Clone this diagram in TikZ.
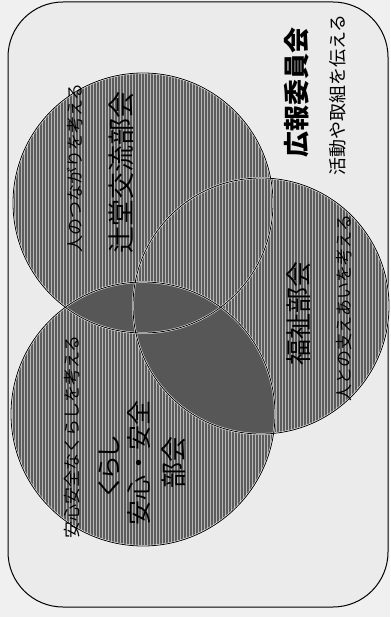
\documentclass[tikz,border=0pt]{standalone}
\usepackage{fontspec}
\setmainfont{Noto Sans CJK JP}
\newfontfamily\kanafont[RawFeature=+palt]{Noto Sans CJK JP}
\usetikzlibrary{patterns.meta}

\tikzset{
  bigtext/.style={rotate=90, inner sep=0pt, font=\fontsize{25}{25}\selectfont},
  smalltext/.style={rotate=90, inner sep=0pt, font=\fontsize{17}{17}\selectfont},
  stripes/.style={pattern={Lines[angle=90,distance=3pt,line width=1pt]}, pattern color=black!28},
  ring/.style={draw=black, line width=0.8pt},
}
\newcommand\circA{(143,203) circle[radius=130pt]}
\newcommand\circB{(261,306) circle[radius=128pt]}
\newcommand\circC{(143,414) circle[radius=132pt]}

\begin{document}
\begin{tikzpicture}[x=1pt,y=-1pt]
\useasboundingbox (0,0) rectangle (390,617);
\fill[black!6] (0,0) rectangle (390,617);
\draw[line width=1pt, rounded corners=55pt, fill=black!8] (8,2) rectangle (388,607);
% circles
\fill[black!64] \circA \circB \circC;
\fill[stripes] \circA \circB \circC;
\begin{scope}
\clip \circC;
\fill[black!66] \circA;
\fill[black!66] \circB;
\end{scope}
\draw[white, line width=1.8pt] \circA \circB \circC;
\draw[ring] \circA \circB \circC;
% labels
\node[bigtext, font=\fontsize{26}{26}\selectfont\bfseries] (koho) at (297,93) {広報委員会};
\node[smalltext, font=\fontsize{18}{18}\selectfont] (kohosub) at (338,95) {活動や取組を伝える};
\node[bigtext, font=\fontsize{27}{27}\selectfont] (tsujido) at (121,173) {辻堂交流部会};
\node[smalltext] (tsujidosub) at (75,168) {人のつながりを考える};
\node[bigtext, font=\fontsize{26}{26}\selectfont] (fukushi) at (299,313) {福祉部会};
\node[smalltext] (fukushisub) at (344,308) {人との支えあいを考える};
\node[smalltext] (kurashisub) at (72,437) {安心安全なくらしを考える};
\node[bigtext, font=\fontsize{25}{25}\selectfont\kanafont] (kurashi1) at (109,466) {くらし};
\node[bigtext] (kurashi2) at (139,463) {安心・安全};
\node[bigtext, font=\fontsize{26}{26}\selectfont] (kurashi3) at (174,462) {部会};
\end{tikzpicture}
\end{document}
